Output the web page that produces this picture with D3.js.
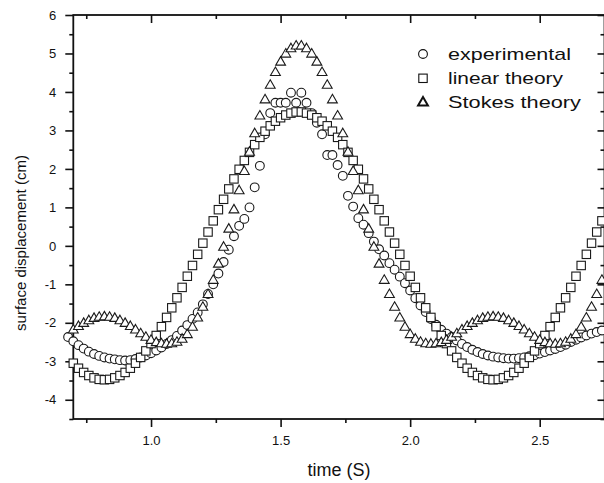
<!DOCTYPE html>
<html>
<head>
<meta charset="utf-8">
<script src="https://cdn.jsdelivr.net/npm/d3@7"></script>
<style>
  body { margin: 0; background: #fff; }
  svg text { font-family: "Liberation Sans", Arial, sans-serif; fill: #111; }
</style>
</head>
<body>
<svg id="chart" width="604" height="483"></svg>
<script>
// sampled surface displacement (cm), one value every 0.02 s
const expStart = 0.68;
const theoryStart = 0.70;
const step = 0.02;

const experimental = [
  -2.37, -2.48, -2.58, -2.67, -2.75, -2.81, -2.86, -2.90, -2.93, -2.95,
  -2.97, -2.98, -2.97, -2.94, -2.90, -2.85, -2.79, -2.72, -2.64, -2.55,
  -2.45, -2.34, -2.20, -2.06, -1.90, -1.73, -1.52, -1.25, -1.00, -0.72,
  -0.42, -0.10, 0.25, 0.52, 0.70, 1.00, 1.52, 2.08, 2.90, 3.45,
  3.72, 3.72, 3.72, 3.98, 3.72, 3.98, 3.72, 3.45, 3.20, 2.90,
  2.36, 2.36, 2.10, 1.82, 1.30, 1.02, 0.72, 0.55, 0.33, 0.11,
  -0.09, -0.25, -0.45, -0.62, -0.80, -0.97, -1.16, -1.36, -1.55, -1.72,
  -1.90, -2.05, -2.18, -2.28, -2.37, -2.46, -2.55, -2.63, -2.70, -2.76,
  -2.81, -2.85, -2.88, -2.90, -2.92, -2.93, -2.93, -2.92, -2.90, -2.87,
  -2.84, -2.80, -2.76, -2.72, -2.68, -2.63, -2.57, -2.50, -2.44, -2.38,
  -2.33, -2.28, -2.24, -2.20
];

const linearTheory = [
  -3.05, -3.18, -3.29, -3.37, -3.43, -3.47, -3.48, -3.47, -3.43, -3.37,
  -3.29, -3.18, -3.05, -2.90, -2.73, -2.54, -2.33, -2.10, -1.86, -1.61,
  -1.35, -1.08, -0.79, -0.51, -0.22, 0.07, 0.36, 0.65, 0.94, 1.21,
  1.48, 1.74, 1.99, 2.22, 2.43, 2.63, 2.82, 2.98, 3.12, 3.24,
  3.33, 3.40, 3.45, 3.48, 3.48, 3.45, 3.40, 3.33, 3.24, 3.12,
  2.98, 2.82, 2.63, 2.43, 2.22, 1.99, 1.74, 1.48, 1.21, 0.94,
  0.65, 0.36, 0.07, -0.22, -0.51, -0.79, -1.08, -1.35, -1.61, -1.86,
  -2.10, -2.33, -2.54, -2.73, -2.90, -3.05, -3.18, -3.29, -3.37, -3.43,
  -3.47, -3.48, -3.47, -3.43, -3.37, -3.29, -3.18, -3.05, -2.90, -2.73,
  -2.54, -2.33, -2.10, -1.86, -1.61, -1.35, -1.08, -0.79, -0.51, -0.22,
  0.07, 0.36, 0.65
];

const stokesTheory = [
  -2.19, -2.10, -2.02, -1.95, -1.89, -1.86, -1.85, -1.86, -1.89, -1.95,
  -2.02, -2.10, -2.19, -2.29, -2.38, -2.46, -2.52, -2.55, -2.56, -2.55,
  -2.51, -2.43, -2.31, -2.12, -1.88, -1.60, -1.27, -0.90, -0.48, -0.04,
  0.43, 0.93, 1.43, 1.93, 2.43, 2.91, 3.37, 3.79, 4.17, 4.50,
  4.77, 4.98, 5.12, 5.19, 5.19, 5.12, 4.98, 4.77, 4.50, 4.17,
  3.79, 3.37, 2.91, 2.43, 1.93, 1.43, 0.93, 0.43, -0.04, -0.48,
  -0.90, -1.27, -1.60, -1.88, -2.12, -2.31, -2.43, -2.51, -2.55, -2.56,
  -2.55, -2.52, -2.46, -2.38, -2.29, -2.19, -2.10, -2.02, -1.95, -1.89,
  -1.86, -1.85, -1.86, -1.89, -1.95, -2.02, -2.10, -2.19, -2.29, -2.38,
  -2.46, -2.52, -2.55, -2.56, -2.55, -2.51, -2.43, -2.31, -2.12, -1.88,
  -1.60, -1.27, -0.90
];

const xMajor = [1.0, 1.5, 2.0, 2.5];
const xMinor = [0.75, 1.25, 1.75, 2.25];
const yMajor = [-4, -3, -2, -1, 0, 1, 2, 3, 4, 5, 6];
const yMinor = [-4.5, -3.5, -2.5, -1.5, -0.5, 0.5, 1.5, 2.5, 3.5, 4.5, 5.5];

const legendItems = [
  { id: 'experimental', label: 'experimental', width: 123 },
  { id: 'linear', label: 'linear theory', width: 115 },
  { id: 'stokes', label: 'Stokes theory', width: 133 }
];

function toPoints(values, start) {
  return values.map((v, i) => ({ t: start + i * step, v: v }));
}

const svg = d3.select('#chart');
const box = { left: 73.3, right: 604.5, top: 15, bottom: 419 };

const x = d3.scaleLinear().domain([0.7, 2.75]).range([box.left, box.right]);
const y = d3.scaleLinear().domain([-4.5, 6]).range([box.bottom, box.top]);

function styleAxis(g) {
  g.select('.domain').remove();
  g.selectAll('.tick line').attr('stroke', '#111').attr('stroke-width', 1.6);
  g.selectAll('.tick text').style('font-size', '13px').attr('fill', '#111');
}

// bottom axis, ticks outward
svg.append('g')
  .attr('transform', `translate(0,${box.bottom})`)
  .call(d3.axisBottom(x).tickValues(xMajor).tickSize(8).tickPadding(9).tickFormat(d3.format('.1f')))
  .call(styleAxis);
svg.append('g')
  .attr('transform', `translate(0,${box.bottom})`)
  .call(d3.axisBottom(x).tickValues(xMinor).tickSize(4).tickFormat(''))
  .call(styleAxis);

// top axis, ticks inward
svg.append('g')
  .attr('transform', `translate(0,${box.top})`)
  .call(d3.axisBottom(x).tickValues(xMajor).tickSize(8).tickFormat(''))
  .call(styleAxis);
svg.append('g')
  .attr('transform', `translate(0,${box.top})`)
  .call(d3.axisBottom(x).tickValues(xMinor).tickSize(4).tickFormat(''))
  .call(styleAxis);

// left axis, ticks outward (plain hyphen for negatives, as in the original)
svg.append('g')
  .attr('transform', `translate(${box.left},0)`)
  .call(d3.axisLeft(y).tickValues(yMajor).tickSize(8).tickPadding(9).tickFormat(d => String(d)))
  .call(styleAxis);
svg.append('g')
  .attr('transform', `translate(${box.left},0)`)
  .call(d3.axisLeft(y).tickValues(yMinor).tickSize(4).tickFormat(''))
  .call(styleAxis);

// right axis, ticks inward
svg.append('g')
  .attr('transform', `translate(${box.right},0)`)
  .call(d3.axisLeft(y).tickValues(yMajor).tickSize(7).tickFormat(''))
  .call(styleAxis);
svg.append('g')
  .attr('transform', `translate(${box.right},0)`)
  .call(d3.axisLeft(y).tickValues(yMinor).tickSize(4).tickFormat(''))
  .call(styleAxis);

svg.append('rect')
  .attr('x', box.left)
  .attr('y', box.top)
  .attr('width', box.right - box.left)
  .attr('height', box.bottom - box.top)
  .attr('fill', 'none')
  .attr('stroke', '#111')
  .attr('stroke-width', 1.8);

// axis titles
svg.append('text')
  .attr('x', (box.left + box.right) / 2)
  .attr('y', 476)
  .attr('text-anchor', 'middle')
  .style('font-size', '18px')
  .text('time (S)');

svg.append('text')
  .attr('transform', 'translate(26,243) rotate(-90)')
  .attr('text-anchor', 'middle')
  .style('font-size', '15px')
  .text('surface displacement (cm)');

// markers
const markStroke = '#1a1a1a';
const triangle = d3.symbol().type(d3.symbolTriangle).size(42);

function drawMarker(sel, id) {
  if (id === 'experimental') {
    sel.append('circle').attr('r', 4.4);
  } else if (id === 'linear') {
    sel.append('rect').attr('x', -4.2).attr('y', -4.2).attr('width', 8.4).attr('height', 8.4);
  } else {
    sel.append('path').attr('d', triangle());
  }
}

const series = [
  { id: 'experimental', points: toPoints(experimental, expStart) },
  { id: 'linear', points: toPoints(linearTheory, theoryStart) },
  { id: 'stokes', points: toPoints(stokesTheory, theoryStart) }
];

series.forEach((s) => {
  const g = svg.append('g')
    .attr('class', `series ${s.id}`)
    .attr('fill', '#fff')
    .attr('stroke', markStroke)
    .attr('stroke-width', 1.1);
  g.selectAll('g')
    .data(s.points)
    .enter().append('g')
    .attr('transform', d => `translate(${x(d.t)},${y(d.v)})`)
    .each(function () { drawMarker(d3.select(this), s.id); });
});

// legend
const legend = svg.append('g').attr('class', 'legend');
legendItems.forEach((item, i) => {
  const row = legend.append('g').attr('transform', `translate(423,${54 + i * 24.3})`);
  const mark = row.append('g')
    .attr('fill', '#fff')
    .attr('stroke', '#111')
    .attr('stroke-width', item.id === 'stokes' ? 2 : 1.1);
  drawMarker(mark, item.id);
  row.append('text')
    .attr('x', 25)
    .attr('y', 5.5)
    .attr('textLength', item.width)
    .attr('lengthAdjust', 'spacingAndGlyphs')
    .style('font-size', '17px')
    .text(item.label);
});
</script>
</body>
</html>
